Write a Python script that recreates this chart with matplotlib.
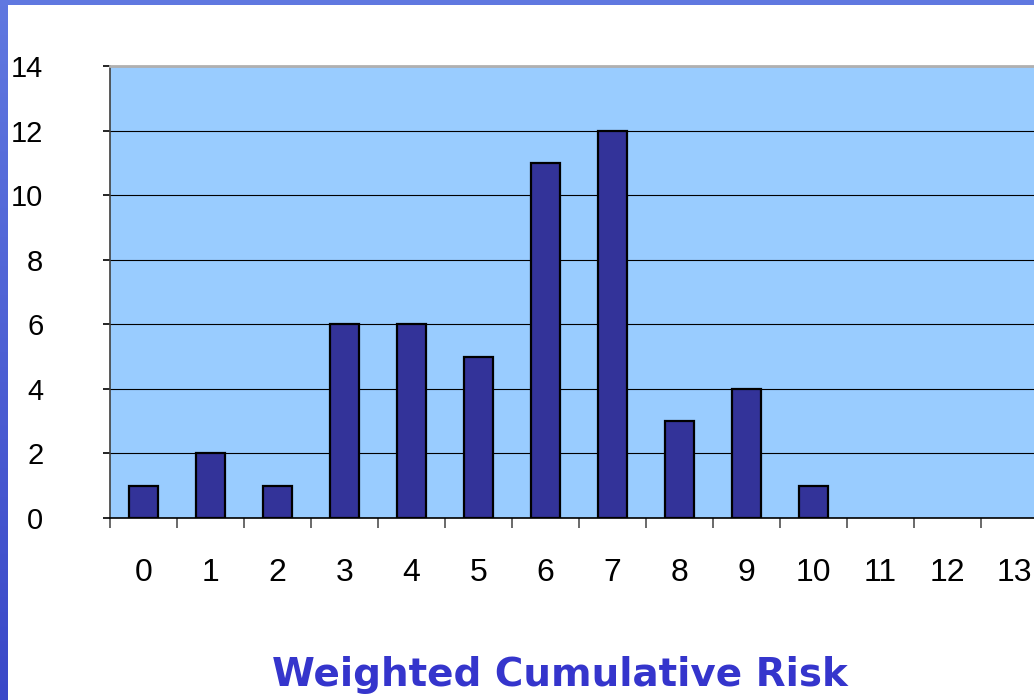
import numpy as np
import matplotlib.pyplot as plt
from matplotlib.patches import Rectangle
from matplotlib.colors import LinearSegmentedColormap

# 数据
categories = list(range(14))
counts = [1, 2, 1, 6, 6, 5, 11, 12, 3, 4, 1, 0, 0, 0]
y_ticks = [0, 2, 4, 6, 8, 10, 12, 14]

fig = plt.figure(figsize=(10.34, 7), dpi=100)
fig.patch.set_facecolor('white')

# 边框（顶部和左侧的蓝色条）
fig.patches.append(Rectangle((0, 1 - 5 / 700), 1, 5 / 700, transform=fig.transFigure,
                             facecolor='#6078E0', edgecolor='none', zorder=0))
band = fig.add_axes([0, 0, 8 / 1034, 1 - 5 / 700])
grad = np.linspace(0, 1, 256)[:, None]
band.imshow(grad, aspect='auto', extent=[0, 1, 0, 1],
            cmap=LinearSegmentedColormap.from_list('b', ['#6078E0', '#3A48C8']))
band.set_axis_off()

# 绘图区
w = 67 / 1034
ax = fig.add_axes([110 / 1034, 1 - 518 / 700, 14 * w, (518 - 66) / 700])
ax.set_facecolor('#99CCFF')
x = np.array(categories)
y = np.array(counts)
nz = y > 0  # 零值不画边框
ax.bar(x[nz], y[nz], width=0.43, color='#333399', edgecolor='black', linewidth=1.6, zorder=3)

ax.set_xlim(-0.5, 13.5)
ax.set_ylim(0, 14)
ax.set_yticks(y_ticks)
ax.grid(axis='y', color='black', linewidth=0.8, zorder=1)
ax.set_axisbelow(True)

ax.spines['top'].set_color('#B0B0B0')
ax.spines['top'].set_linewidth(2)
ax.spines['right'].set_visible(False)
ax.spines['left'].set_color('#404040')
ax.spines['left'].set_linewidth(1.2)
ax.spines['bottom'].set_color('black')
ax.spines['bottom'].set_linewidth(1.2)

ax.set_xticks(x)
ax.set_xticks(np.arange(-0.5, 13.6, 1), minor=True)
ax.tick_params(axis='x', which='major', length=0, pad=29)
ax.tick_params(axis='x', which='minor', length=7, width=1.2, color='#505050', direction='out')
ax.tick_params(axis='y', length=5, width=1.2, direction='out', pad=43)
for lab in ax.get_xticklabels():
    lab.set_fontfamily('Liberation Sans')
    lab.set_fontsize(23)
for lab in ax.get_yticklabels():
    lab.set_fontfamily('Liberation Sans')
    lab.set_fontsize(21)

fig.text(560 / 1034, 1 - 675 / 700, 'Weighted Cumulative Risk', ha='center', va='center',
         fontsize=28, fontweight='bold', color='#3535CC', family='DejaVu Sans')

plt.savefig('out.png', dpi=100)
plt.close()
